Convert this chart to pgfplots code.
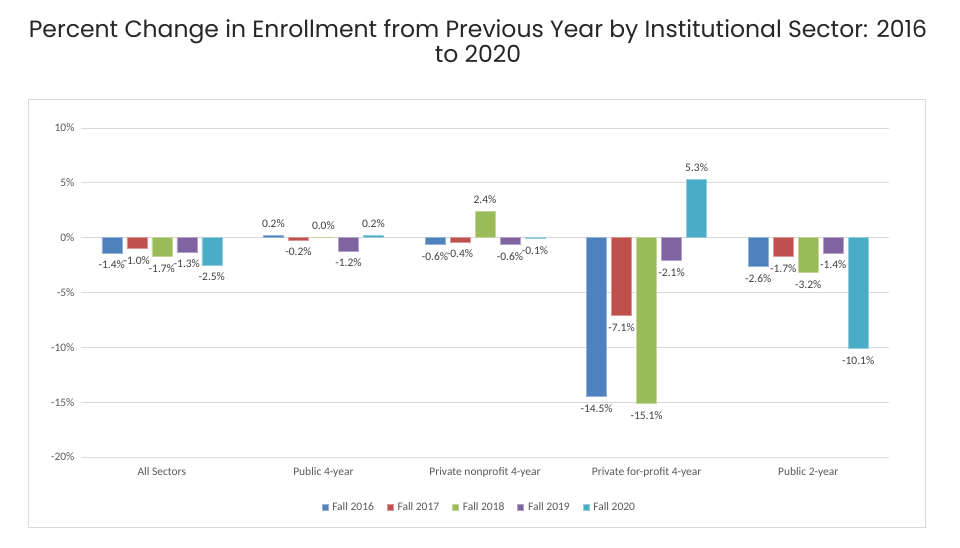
\documentclass[border=0pt]{standalone}
\usepackage{pgfplots}
\pgfplotsset{compat=1.18}
\usepackage{fontspec}
\setmainfont{Carlito}
\newfontfamily\titlefont{Poppins}
\definecolor{c1}{HTML}{4F81BD}
\definecolor{c2}{HTML}{C0504D}
\definecolor{c3}{HTML}{9BBB59}
\definecolor{c4}{HTML}{8064A2}
\definecolor{c5}{HTML}{4BACC6}
\definecolor{gridgray}{HTML}{D9D9D9}
\definecolor{labgray}{HTML}{595959}
\definecolor{datgray}{HTML}{404040}
\begin{document}
\begin{tikzpicture}
\path[use as bounding box] (0,0) rectangle (960pt,547pt);
\fill[white] (0,0) rectangle (960pt,547pt);
\draw[line width=1pt, gridgray] (28pt,20pt) rectangle (925pt,447pt);
\node[align=center, font=\titlefont\fontsize{23.5}{25}\selectfont, text=black!85] at (478pt,506pt) {Percent Change in Enrollment from Previous Year by Institutional Sector: 2016\\to 2020};
\begin{axis}[
 at={(81pt,90pt)}, anchor=south west, width=808pt, height=329pt, scale only axis,
 ybar=5pt, bar width=20pt,
 xmin=-0.5, xmax=4.5, ymin=-20, ymax=10,
 xtick={0,1,2,3,4},
 xticklabels={All Sectors, Public 4-year, Private nonprofit 4-year, Private for-profit 4-year, Public 2-year},
 ytick={-20,-15,-10,-5,0,5,10},
 yticklabel={\pgfmathprintnumber{\tick}\%},
 ymajorgrids, grid style={color=gridgray, line width=0.8pt},
 axis line style={draw=none}, major tick length=0pt,
 tick label style={font=\fontsize{11.5}{13}\selectfont, text=labgray},
 /pgf/number format/assume math mode=true,
 xticklabel style={yshift=-7pt},
 yticklabel style={xshift=-3pt},
 nodes near coords={\pgfmathprintnumber[fixed,fixed zerofill,precision=1]{\pgfplotspointmeta}\%},
 nodes near coords style={font=\fontsize{11.5}{13}\selectfont, text=datgray, inner sep=4.5pt, outer sep=3.5pt},
 legend style={at={(0.493,-0.152)}, anchor=center, draw=none, legend columns=5,
   font=\fontsize{11.5}{13}\selectfont, text=labgray, inner sep=0pt,
   /tikz/every odd column/.append style={column sep=2pt},
   /tikz/every even column/.append style={column sep=11pt}},
 legend image code/.code={\fill[#1] (0pt,-3pt) rectangle (6pt,3pt);},
]
\addplot[fill=c1, draw=c1!60!white, line width=0.6pt] coordinates {(0,-1.4) (1,0.2) (2,-0.6) (3,-14.5) (4,-2.6)};
\addplot[fill=c2, draw=c2!60!white, line width=0.6pt] coordinates {(0,-1.0) (1,-0.2) (2,-0.4) (3,-7.1) (4,-1.7)};
\addplot[fill=c3, draw=c3!60!white, line width=0.6pt] coordinates {(0,-1.7) (1,0.0) (2,2.4) (3,-15.1) (4,-3.2)};
\addplot[fill=c4, draw=c4!60!white, line width=0.6pt] coordinates {(0,-1.3) (1,-1.2) (2,-0.6) (3,-2.1) (4,-1.4)};
\addplot[fill=c5, draw=c5!60!white, line width=0.6pt] coordinates {(0,-2.5) (1,0.2) (2,-0.1) (3,5.3) (4,-10.1)};
\legend{Fall 2016, Fall 2017, Fall 2018, Fall 2019, Fall 2020}
\end{axis}
\end{tikzpicture}
\end{document}
